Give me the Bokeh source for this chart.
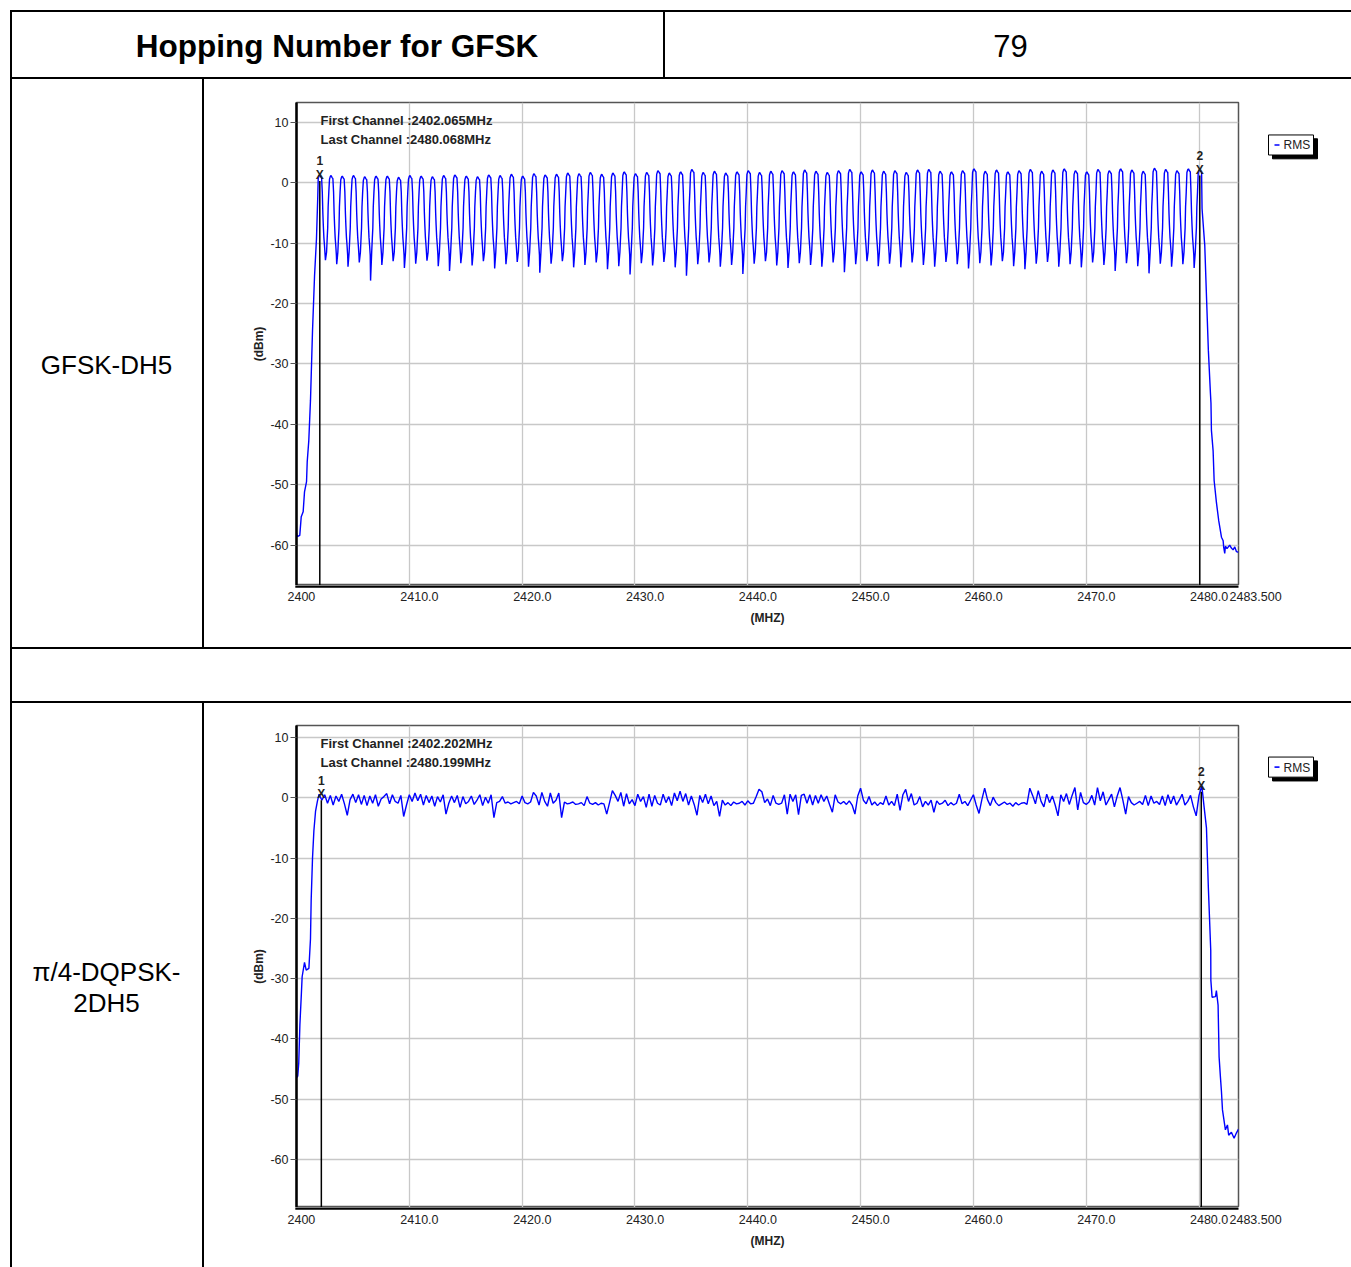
import numpy as np
from bokeh.plotting import figure
from bokeh.layouts import row, column
from bokeh.models import Div, Range1d, FixedTicker
from bokeh.core.properties import value
from bokeh.embed import file_html
from bokeh.resources import INLINE

# ------------------------------------------------------------------ data
header_left = "Hopping Number for GFSK"
header_right = "79"
row1_label = ["GFSK-DH5"]
row2_label = ["\u03c0/4-DQPSK-", "2DH5"]

x_ticks = [2400, 2410, 2420, 2430, 2440, 2450, 2460, 2470, 2480, 2483.5]
x_tick_labels = ["2400", "2410.0", "2420.0", "2430.0", "2440.0", "2450.0",
                 "2460.0", "2470.0", "2480.0", "2483.500"]
x_title = "(MHZ)"
y_title = "(dBm)"
y_ticks = [10, 0, -10, -20, -30, -40, -50, -60]
y_tick_labels = ["10", "0", "-10", "-20", "-30", "-40", "-50", "-60"]
x_span = (2400.0, 2483.5)
y_range_1 = (-66.7, 13.3)
y_range_2 = (-68.0, 12.0)
legend_text = "RMS"

# --- GFSK-DH5: 79 hopping channels
gfsk_first = 2402.065
gfsk_last = 2480.068
gfsk_peak = [1.3, 1.2, 1.1, 1.2, 1.0, 1.1, 1.1, 0.9, 1.2, 1.1,
             1.0, 1.2, 1.3, 1.1, 1.0, 1.3, 1.2, 1.4, 1.1, 1.5,
             1.3, 1.4, 1.6, 1.5, 1.7, 1.4, 1.6, 1.8, 1.5, 1.7,
             2.0, 1.6, 1.8, 2.2, 1.7, 1.9, 1.6, 1.8, 2.0, 1.7,
             1.9, 2.0, 1.8, 2.1, 1.9, 1.7, 2.0, 2.2, 1.8, 2.1,
             1.9, 2.0, 1.7, 2.1, 2.2, 1.9, 1.8, 2.0, 2.3, 1.9,
             2.1, 1.8, 2.0, 2.2, 1.9, 2.1, 2.3, 2.0, 1.8, 2.2,
             2.0, 2.3, 2.1, 1.9, 2.4, 2.2, 2.0, 2.3, 2.2]
gfsk_trough = [-12.8, -13.5, -13.9, -13.2, -16.2, -13.6, -13.0, -14.1, -13.4, -12.9,
               -13.8, -14.6, -13.3, -13.7, -13.0, -14.2, -13.5, -13.1, -13.9, -14.9,
               -13.4, -13.0, -14.0, -13.6, -13.2, -14.3, -13.8, -15.2, -13.3, -13.7,
               -13.1, -14.0, -15.4, -13.5, -13.2, -13.9, -13.6, -15.1, -13.4, -13.0,
               -13.7, -14.1, -13.3, -13.6, -13.9, -13.2, -14.8, -13.5, -13.0, -13.8,
               -13.4, -14.0, -13.2, -13.6, -13.9, -13.1, -13.5, -14.2, -13.3, -13.7,
               -13.0, -13.8, -14.3, -13.4, -13.1, -13.9, -13.5, -14.0, -13.2, -13.6,
               -14.6, -13.3, -13.8, -15.0, -13.4, -13.9, -13.5, -14.1]
gfsk_left_f = [2400.0, 2400.06, 2400.29, 2400.42, 2400.59, 2400.71, 2400.89, 2400.95,
               2401.09, 2401.24, 2401.42, 2401.6, 2401.77, 2401.89]
gfsk_left_db = [-58.0, -58.6, -58.4, -55.3, -54.5, -51.2, -49.5, -46.2,
                -42.7, -36.0, -24.5, -15.4, -9.3, -2.0]
gfsk_right_f = [2480.27, 2480.51, 2480.66, 2480.83, 2481.01, 2481.06, 2481.1, 2481.25,
                2481.34, 2481.54, 2481.75, 2481.99, 2482.14, 2482.19, 2482.28, 2482.34,
                2482.48, 2482.72, 2482.87, 2483.02, 2483.17, 2483.32, 2483.5]
gfsk_right_db = [-4.3, -10.4, -18.7, -27.8, -34.8, -36.5, -41.0, -44.4,
                 -49.3, -52.9, -56.0, -58.7, -59.3, -60.4, -61.4, -60.2,
                 -60.6, -60.0, -60.5, -60.8, -60.3, -61.1, -61.2]
gfsk_marker_db = [1.3, 2.2]

# --- pi/4-DQPSK-2DH5: trace sampled every 0.25 MHz from 2402.0 MHz
dq_first = 2402.202
dq_last = 2480.199
dq_start = 2402.0
dq_step = 0.25
dq_level = [
    0.6, -0.4, 0.5, -0.9,   0.4, -1.2, 0.3, -0.6,   0.6, -1.0, -2.9, -0.3,
    0.6, -0.8, 0.5, -1.1,   0.4, -1.3, 0.3, -0.9,   0.5, -1.4, -0.2, 0.2,
    0.7, -1.0, 0.5, -0.6,  -0.9, 0.4, -3.1, -1.2,   0.5, -0.6, 0.8, -0.5,
    0.6, -1.2, 0.4, -0.8,   0.3, -1.4, 0.2, -0.7,   0.5, -2.7, -0.9, 0.3,
   -0.8, 0.4, -1.6, 0.2,  -1.0, -0.6, 0.3, -1.1,  -0.4, 0.5, -1.3, 0.1,
   -0.9, 0.5, -3.3, -0.8, -0.6, 0.2, -0.9, -0.7,  -1.0, -0.8, -0.6, -1.0,
    0.3, -0.8, -1.0, -0.7,  0.9, 0.3, -1.2, 0.9,  -0.6, -1.4, 0.8, -0.9,
   -0.4, 0.8, -3.3, -0.7, -1.0, -0.9, -0.7, -1.1, -1.0, -0.8, -1.3, 0.2,
   -0.9, -1.1, -0.8, -1.2, -0.9, -1.0, -2.7, -0.8,  1.2, 0.4, -0.6, 0.9,
   -1.4, 0.7, -1.0, -0.3, -1.3, 0.6, -0.6, 0.2,  -1.6, 0.6, -1.4, 0.4,
   -0.9, -1.2, 0.6, -0.8,  0.2, -1.3, 0.8, -0.5,   1.1, -0.6, 0.7, -1.2,
    0.3, -1.1, -2.9, 0.4, -0.8, 0.6, -1.0, 0.3,  -1.3, -0.6, -3.1, -0.4,
   -1.2, -0.8, -1.3, -0.7, -1.0, -0.9, -0.6, -1.2, -0.5, -1.0, -0.9, 0.2,
    1.4, 1.0, -0.8, -0.2, -1.3, 0.4, -0.9, -1.1,  -0.9, 0.5, -2.7, 0.6,
   -0.6, 0.5, -2.8, 0.4,   0.6, -0.9, 0.5, -1.2,   0.4, -0.9, 0.5, -0.6,
    0.3, -1.1, -2.4, 0.5, -0.7, -1.0, -0.6, -1.1, -0.5, -1.2, -2.7, 0.3,
    1.6, -0.4, -1.0, 0.2, -1.2, -0.7, -1.3, -0.8, -1.1, 0.3, -1.2, -0.6,
   -1.3, 0.6, -2.1, 0.5,   1.4, -0.6, 0.7, -1.2, -0.9, 0.2, -1.5, -0.6,
   -1.2, -0.4, -2.4, -0.5, -1.1, -0.9, -0.4, -1.3, -0.8, -1.2, -0.9, 0.6,
   -1.0, -0.6, -1.3, -0.4,  0.5, -1.2, -2.6, -0.3,  1.6, -0.3, -1.3, 0.1,
   -0.8, -1.3, -1.0, -0.7, -1.1, -0.9, -1.4, -0.8, -1.2, -0.9, -0.8, -1.1,
    1.6, 0.4, -1.0, 1.2,  -0.6, -1.5, 0.6, -0.8,   0.3, -1.2, -3.0, 0.5,
   -0.6, 0.7, -1.1, 0.4,   1.7, -2.0, 0.9, -0.8,  -1.1, -0.7, 0.4, -1.2,
    1.7, -0.5, 1.0, -1.2, -0.3, 0.6, -1.5, 0.3,   1.7, -0.4, -2.7, 0.2,
   -0.8, -1.2, -0.9, -0.6, -1.1, 0.4, -1.3, 0.3,  -0.9, -0.6, -1.1, 0.3,
   -1.3, 0.5, -1.0, 0.3,  -1.2, -0.4, 0.6, -1.2,  -0.6, 0.4, -1.5, -3.0,
    0.4, 2.0]
dq_left_f = [2400.0, 2400.11, 2400.2, 2400.3, 2400.42, 2400.5, 2400.71, 2400.86,
             2401.1, 2401.24, 2401.3, 2401.42, 2401.54, 2401.69, 2401.85]
dq_left_db = [-46.5, -46.2, -44.0, -37.7, -33.0, -29.7, -27.3, -28.6,
              -28.3, -23.4, -17.0, -10.0, -5.5, -2.2, -0.6]
dq_right_f = [2480.45, 2480.66, 2480.83, 2481.04, 2481.05, 2481.16, 2481.46, 2481.54,
              2481.69, 2481.78, 2481.9, 2481.99, 2482.08, 2482.34, 2482.52, 2482.63,
              2482.87, 2483.11, 2483.32, 2483.5]
dq_right_db = [-1.5, -5.0, -15.0, -25.3, -30.3, -33.1, -33.0, -32.0,
               -34.4, -43.0, -46.4, -48.8, -51.8, -55.1, -54.3, -56.0,
               -55.5, -56.5, -55.6, -55.0]
dq_marker_db = [0.6, 2.0]

# ------------------------------------------------------------------ traces
RISE = [(-0.40, -11.5), (-0.34, -9.0), (-0.30, -7.5), (-0.26, -4.0), (-0.20, -1.5)]
TOP = [(-0.14, -0.6), (-0.06, -0.1), (0.0, 0.0), (0.08, -0.3), (0.16, -0.5)]
FALL = [(0.22, -1.5), (0.27, -5.0), (0.31, -7.0), (0.36, -9.0), (0.42, -10.5), (0.47, -12.0)]


def gfsk_trace():
    ch = np.linspace(gfsk_first, gfsk_last, len(gfsk_peak))
    xs, ys = list(gfsk_left_f), list(gfsk_left_db)
    n = len(ch)
    for k, (fc, pk) in enumerate(zip(ch, gfsk_peak)):
        if k > 0:
            for dx, lv in RISE:
                xs.append(fc + dx); ys.append(lv)
        for dx, dl in TOP:
            xs.append(fc + dx); ys.append(pk + dl)
        if k < n - 1:
            for dx, lv in FALL:
                xs.append(fc + dx); ys.append(lv)
            xs.append(fc + 0.5); ys.append(gfsk_trough[k])
    xs += gfsk_right_f; ys += gfsk_right_db
    return xs, ys


def dq_trace():
    xs = list(dq_left_f) + [dq_start + dq_step * i for i in range(len(dq_level))] + list(dq_right_f)
    ys = list(dq_left_db) + list(dq_level) + list(dq_right_db)
    return xs, ys

# ------------------------------------------------------------------ helpers
FONT = "Liberation Sans"
W_TOTAL = 1351
LEFT_PAD = 10
FRAME_L = 92           # frame left offset inside the chart cell
FRAME_W = 942          # frame width in px
CELL_W = 1147          # chart cell width
PPM = FRAME_W / (x_span[1] - x_span[0])


def blank(w, h):
    return Div(width=w, height=h, margin=0, styles={"background-color": "white"})


def black(w, h):
    return Div(width=w, height=h, margin=0, styles={"background-color": "black"})


def plain_fig(w, h, xr, yr):
    f = figure(width=w, height=h, x_range=xr, y_range=yr,
               x_axis_type=None, y_axis_type=None, toolbar_location=None,
               output_backend="svg", min_border=0, outline_line_color=None,
               background_fill_color="white", border_fill_color="white")
    f.grid.visible = False
    return f


def text_cell(w, h, items):
    f = plain_fig(w, h, Range1d(0, w), Range1d(0, h))
    for tx, ty, txt, size, style in items:
        f.text(x=[tx], y=[ty], text=[txt], text_font=value(FONT), text_font_size=size,
               text_font_style=style, text_color="black", text_align="center",
               text_baseline="middle")
    return f


def spectrum(height, yr, mb_top, xs, ys, first_txt, last_txt, mf, mdb):
    p = figure(width=FRAME_L + FRAME_W + 2, height=height, x_range=Range1d(*x_span),
               y_range=Range1d(*yr), toolbar_location=None, output_backend="svg",
               x_axis_location=None,
               min_border_left=FRAME_L, min_border_right=2, min_border_top=mb_top,
               min_border_bottom=0, background_fill_color="white",
               border_fill_color="white", outline_line_color="#555555",
               outline_line_width=1.5)
    p.xgrid.ticker = FixedTicker(ticks=x_ticks)
    p.ygrid.ticker = FixedTicker(ticks=y_ticks)
    p.grid.grid_line_color = "#c8c8c8"
    p.grid.grid_line_width = 1.3

    ya = p.yaxis[0]
    ya.ticker = FixedTicker(ticks=y_ticks)
    ya.major_label_overrides = dict(zip(y_ticks, y_tick_labels))
    ya.major_tick_out = 6
    ya.major_tick_in = 0
    ya.minor_tick_out = 0
    ya.minor_tick_in = 0
    ya.major_tick_line_color = "#555555"
    ya.axis_line_width = 2.5
    ya.axis_line_color = "black"
    ya.major_label_text_font = FONT
    ya.major_label_text_font_size = "12.5px"
    ya.major_label_text_color = "#222222"
    ya.major_label_standoff = 2
    ya.axis_label = y_title
    ya.axis_label_text_font = FONT
    ya.axis_label_text_font_size = "12px"
    ya.axis_label_text_font_style = "bold"
    ya.axis_label_text_color = "#222222"
    ya.axis_label_standoff = 1

    p.line(xs, ys, line_color="#0000ff", line_width=1.4)

    ymin = yr[0]
    p.segment(x0=mf, y0=[d - 1.0 for d in mdb], x1=mf, y1=[ymin, ymin],
              line_color="black", line_width=1.5)
    p.text(x=mf, y=mdb, text=["X", "X"], text_font=value(FONT), text_font_size="12px",
           text_font_style="bold", text_color="#222222", text_align="center",
           text_baseline="middle")
    p.text(x=mf, y=mdb, text=["1", "2"], y_offset=-14, text_font=value(FONT),
           text_font_size="12px", text_font_style="bold", text_color="#222222",
           text_align="center", text_baseline="middle")

    # channel read-outs (positioned in screen px from the frame's top-left)
    f_top = yr[1]
    dy = (yr[1] - yr[0]) / 482.5
    p.text(x=[x_span[0], x_span[0]], y=[f_top - 18 * dy, f_top - 37 * dy],
           text=[first_txt, last_txt], x_offset=24, text_font=value(FONT),
           text_font_size="13px", text_font_style="bold", text_color="#222222",
           text_align="left", text_baseline="middle")
    return p


def x_strip(height, lab_y, title_y):
    start = x_span[0] - FRAME_L / PPM
    end = x_span[0] + (CELL_W - FRAME_L) / PPM
    s = plain_fig(CELL_W, height, Range1d(start, end), Range1d(height, 0))
    # bottom axis line of the chart frame
    s.segment(x0=[x_span[0] - 1.2 / PPM], y0=[0.9], x1=[x_span[1]], y1=[0.9],
              line_color="black", line_width=2.6)
    s.text(x=x_ticks, y=[lab_y] * len(x_ticks), text=x_tick_labels, x_offset=-9,
           text_font=value(FONT), text_font_size="12.5px", text_color="#222222",
           text_align="left", text_baseline="middle")
    s.text(x=[(x_span[0] + x_span[1]) / 2], y=[title_y], text=[x_title],
           text_font=value(FONT), text_font_size="12px", text_font_style="bold",
           text_color="#222222", text_align="center", text_baseline="middle")
    return s


def legend_fig(height, box_top):
    w = CELL_W - FRAME_L - FRAME_W - 2
    g = plain_fig(w, height, Range1d(0, w), Range1d(height, 0))
    g.quad(left=[32], right=[77], top=[box_top + 4], bottom=[box_top + 25],
           fill_color="black", line_color="black")
    g.quad(left=[28], right=[73], top=[box_top], bottom=[box_top + 21],
           fill_color="white", line_color="black", line_width=1)
    g.segment(x0=[34], y0=[box_top + 10.5], x1=[39], y1=[box_top + 10.5],
              line_color="#0000ff", line_width=1.6)
    g.text(x=[43], y=[box_top + 11], text=[legend_text], text_font=value(FONT),
           text_font_size="12px", text_color="#222222", text_align="left",
           text_baseline="middle")
    return g

# ------------------------------------------------------------------ build
gx, gy = gfsk_trace()
dx, dy = dq_trace()

p1 = spectrum(506, y_range_1, 23, gx, gy,
              "First Channel :%.3fMHz" % gfsk_first, "Last Channel :%.3fMHz" % gfsk_last,
              [gfsk_first, gfsk_last], gfsk_marker_db)
p2 = spectrum(504, y_range_2, 22, dx, dy,
              "First Channel :%.3fMHz" % dq_first, "Last Channel :%.3fMHz" % dq_last,
              [dq_first, dq_last], dq_marker_db)

cell1 = column(row(p1, legend_fig(506, 34), spacing=0), x_strip(62, 11, 32), spacing=0)
cell2 = column(row(p2, legend_fig(504, 33), spacing=0), x_strip(60, 12, 33), spacing=0)

h_left = text_cell(651, 65, [(324.5, 32, header_left, "31.5px", "bold")])
h_right = text_cell(W_TOTAL - 665, 65, [(345, 32, header_right, "31px", "normal")])
lab1 = text_cell(190, 568, [(94, 283, row1_label[0], "26px", "normal")])
lab2 = text_cell(190, 564, [(94, 296, row2_label[0], "26px", "normal"),
                            (94, 265, row2_label[1], "26px", "normal")])


def hline():
    return row(blank(LEFT_PAD, 2), black(W_TOTAL - LEFT_PAD, 2), spacing=0)


layout = column(
    blank(W_TOTAL, 10),
    hline(),
    row(blank(LEFT_PAD, 65), black(2, 65), h_left, black(2, 65), h_right, spacing=0),
    hline(),
    row(blank(LEFT_PAD, 568), black(2, 568), lab1, black(2, 568), cell1, spacing=0),
    hline(),
    row(blank(LEFT_PAD, 52), black(2, 52), blank(W_TOTAL - LEFT_PAD - 2, 52), spacing=0),
    hline(),
    row(blank(LEFT_PAD, 564), black(2, 564), lab2, black(2, 564), cell2, spacing=0),
    spacing=0,
)

open("out.html", "w").write(file_html(layout, INLINE))
